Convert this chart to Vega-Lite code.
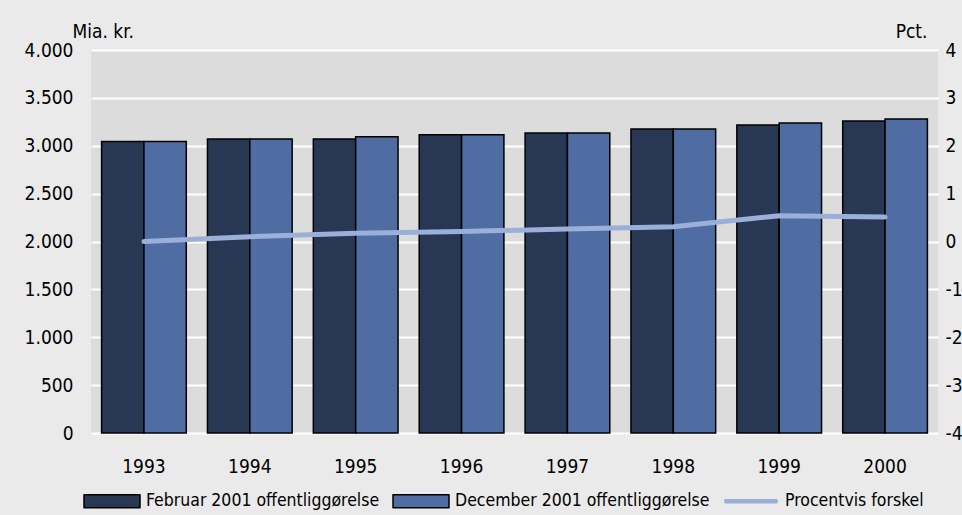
{
  "$schema": "https://vega.github.io/schema/vega-lite/v6.json",
  "autosize": {"type": "none"},
  "width": 847,
  "height": 383,
  "padding": {"left": 91, "top": 50, "right": 24, "bottom": 82},
  "background": "#eaeaea",
  "config": {
    "locale": {"number": {"decimal": ",", "thousands": ".", "grouping": [3], "currency": ["", " kr."], "minus": "-"}},
    "view": {"fill": "#dcdcdc", "stroke": null},
    "font": "DejaVu Sans Condensed",
    "axis": {"labelFont": "DejaVu Sans Condensed", "titleFont": "DejaVu Sans Condensed", "labelColor": "#000000", "titleColor": "#000000", "labelFontSize": 19, "titleFontSize": 19, "titleFontWeight": "normal"}
  },
  "datasets": {
    "bars": [
      {"year": "1993", "series": "Februar 2001 offentliggørelse", "value": 3045},
      {"year": "1993", "series": "December 2001 offentliggørelse", "value": 3045},
      {"year": "1994", "series": "Februar 2001 offentliggørelse", "value": 3070},
      {"year": "1994", "series": "December 2001 offentliggørelse", "value": 3070},
      {"year": "1995", "series": "Februar 2001 offentliggørelse", "value": 3070},
      {"year": "1995", "series": "December 2001 offentliggørelse", "value": 3094},
      {"year": "1996", "series": "Februar 2001 offentliggørelse", "value": 3115},
      {"year": "1996", "series": "December 2001 offentliggørelse", "value": 3115},
      {"year": "1997", "series": "Februar 2001 offentliggørelse", "value": 3133},
      {"year": "1997", "series": "December 2001 offentliggørelse", "value": 3133},
      {"year": "1998", "series": "Februar 2001 offentliggørelse", "value": 3175},
      {"year": "1998", "series": "December 2001 offentliggørelse", "value": 3175},
      {"year": "1999", "series": "Februar 2001 offentliggørelse", "value": 3216},
      {"year": "1999", "series": "December 2001 offentliggørelse", "value": 3237},
      {"year": "2000", "series": "Februar 2001 offentliggørelse", "value": 3258},
      {"year": "2000", "series": "December 2001 offentliggørelse", "value": 3279}
    ],
    "pct": [
      {"year": "1993", "pct": 0.0},
      {"year": "1994", "pct": 0.1},
      {"year": "1995", "pct": 0.17},
      {"year": "1996", "pct": 0.21},
      {"year": "1997", "pct": 0.26},
      {"year": "1998", "pct": 0.31},
      {"year": "1999", "pct": 0.54},
      {"year": "2000", "pct": 0.51}
    ]
  },
  "encoding": {
    "x": {
      "field": "year", "type": "nominal",
      "scale": {"paddingInner": 0.2, "paddingOuter": 0.1},
      "axis": {"title": null, "labelAngle": 0, "ticks": false, "domain": false, "grid": false, "labelPadding": 24, "labelBaseline": "top"}
    }
  },
  "layer": [
    {
      "data": {"name": "bars"},
      "mark": {"type": "bar", "stroke": "#000000", "strokeWidth": 1.5},
      "encoding": {
        "xOffset": {"field": "series", "type": "nominal", "scale": {"domain": ["Februar 2001 offentliggørelse", "December 2001 offentliggørelse"], "paddingInner": 0}},
        "y": {
          "field": "value", "type": "quantitative",
          "scale": {"domain": [0, 4000], "nice": false},
          "axis": {
            "title": "Mia. kr.", "titleAngle": 0, "titleAlign": "left", "titleBaseline": "alphabetic", "titleX": -19, "titleY": -13,
            "values": [0, 500, 1000, 1500, 2000, 2500, 3000, 3500, 4000],
            "format": ",d", "ticks": false, "domain": false, "labelPadding": 18,
            "grid": true, "gridColor": "#ffffff", "gridWidth": 2, "gridOpacity": 1
          }
        },
        "color": {
          "field": "series", "type": "nominal",
          "scale": {"domain": ["Februar 2001 offentliggørelse", "December 2001 offentliggørelse", "Procentvis forskel"], "range": ["#283754", "#4f6da3", "#9bb0d8"]},
          "legend": {
            "title": null, "orient": "none", "direction": "horizontal", "legendX": -8, "legendY": 422,
            "padding": 0, "labelFont": "DejaVu Sans Condensed", "labelFontSize": 17.5, "labelColor": "#000000", "labelLimit": 500,
            "labelOffset": 5, "columnPadding": 12,
            "symbolType": "M-1,-0.232H1V0.232H-1Z", "symbolSize": 3136, "symbolStrokeColor": "#000000", "symbolStrokeWidth": 1.5, "symbolOpacity": 1,
            "encode": {
              "symbols": {
                "update": {
                  "shape": {"signal": "datum.value === 'Procentvis forskel' ? 'M-0.93,-0.05H0.93V0.05H-0.93Z' : 'M-1,-0.232H1V0.232H-1Z'"},
                  "stroke": {"signal": "datum.value === 'Procentvis forskel' ? '#9bb0d8' : '#000000'"},
                  "strokeJoin": {"value": "round"},
                  "strokeWidth": {"value": 1.5}
                }
              }
            }
          }
        }
      }
    },
    {
      "data": {"name": "pct"},
      "mark": {"type": "line", "color": "#9bb0d8", "strokeWidth": 5, "strokeCap": "round"},
      "encoding": {
        "y": {
          "field": "pct", "type": "quantitative",
          "scale": {"domain": [-4, 4], "nice": false},
          "axis": {
            "orient": "right", "title": "Pct.", "titleAngle": 0, "titleAlign": "right", "titleBaseline": "alphabetic", "titleX": -11, "titleY": -13,
            "values": [-4, -3, -2, -1, 0, 1, 2, 3, 4], "format": "d", "ticks": false, "domain": false, "grid": false, "labelPadding": 7
          }
        }
      }
    }
  ],
  "resolve": {"scale": {"y": "independent"}}
}
